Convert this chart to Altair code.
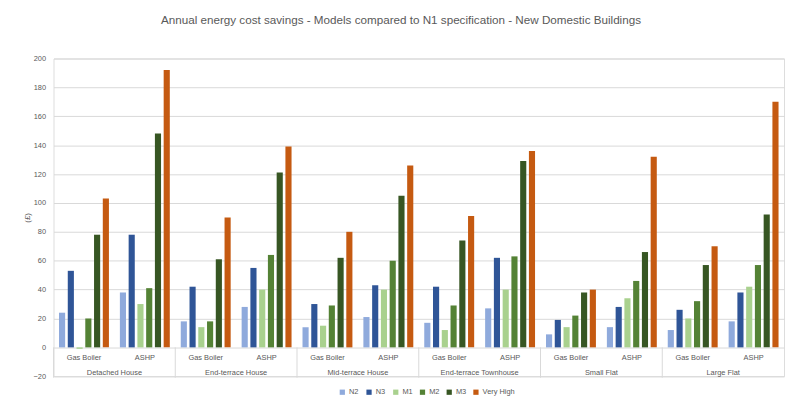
import altair as alt
import pandas as pd

groups = ["Detached House", "End-terrace House", "Mid-terrace House",
          "End-terrace Townhouse", "Small Flat", "Large Flat"]
subs = ["Gas Boiler", "ASHP"]
series = ["N2", "N3", "M1", "M2", "M3", "Very High"]
colors = ["#8FAADC", "#2F5597", "#A9D18E", "#548235", "#375623", "#C55A11"]

# values per series, ordered group by group: (Gas Boiler, ASHP)
N2 = [24, 38, 18, 28, 14, 21, 17, 27, 9, 14, 12, 18]
N3 = [53, 78, 42, 55, 30, 43, 42, 62, 19, 28, 26, 38]
M1 = [-1, 30, 14, 40, 15, 40, 12, 40, 14, 34, 20, 42]
M2 = [20, 41, 18, 64, 29, 60, 29, 63, 22, 46, 32, 57]
M3 = [78, 148, 61, 121, 62, 105, 74, 129, 38, 66, 57, 92]
VH = [103, 192, 90, 139, 80, 126, 91, 136, 40, 132, 70, 170]

y_ticks = list(range(-20, 201, 20))

cats = [f"{g}|{s}" for g in groups for s in subs]
vals = dict(zip(series, [N2, N3, M1, M2, M3, VH]))

rows = []
for s in series:
    for i, c in enumerate(cats):
        rows.append({"cat": c, "series": s, "value": vals[s][i]})
df = pd.DataFrame(rows)

sub_df = pd.DataFrame({"cat": cats, "label": [c.split("|")[1] for c in cats], "value": -7.5})
grp_df = pd.DataFrame({"cat": [f"{g}|{subs[0]}" for g in groups], "label": groups, "value": -18.0})
sep_df = pd.DataFrame({"cat": [f"{g}|{subs[0]}" for g in groups], "value": 0, "value2": -21})

W = 738
H = 321
step = W / len(cats)
grey = "#595959"
FONT = "Liberation Sans"

xs = alt.X("cat:N", sort=cats,
           scale=alt.Scale(domain=cats, paddingInner=0.18, paddingOuter=0.09),
           axis=None)
yscale = alt.Scale(domain=[-20, 200], nice=False, zero=False)
yaxis = alt.Axis(values=y_ticks, tickCount=12, title="(£)", grid=True,
                 gridColor="#D9D9D9", domain=False, ticks=False,
                 labelColor=grey, labelFontSize=7.5, labelFont=FONT,
                 labelPadding=8, labelOverlap=False, labelFlush=False,
                 titleColor=grey, titleFontSize=8,
                 titleFont=FONT, titleFontWeight="normal",
                 titlePadding=2)
ys = alt.Y("value:Q", scale=yscale, axis=yaxis)

bars = alt.Chart(df).mark_bar().encode(
    x=xs,
    xOffset=alt.XOffset("series:N", sort=series,
                        scale=alt.Scale(domain=series, paddingInner=0.3)),
    y=ys,
    y2=alt.datum(0),
    color=alt.Color("series:N", sort=series,
                    scale=alt.Scale(domain=series, range=colors),
                    legend=alt.Legend(title=None, orient="none", direction="horizontal",
                                      legendX=288, legendY=333, symbolType="square",
                                      symbolSize=28, labelFontSize=7.5, labelColor=grey,
                                      labelFont=FONT, columnPadding=6, labelOffset=3,
                                      symbolStrokeWidth=0)),
)

sub_txt = alt.Chart(sub_df).mark_text(fontSize=7.5, color=grey, font=FONT,
                                       baseline="middle").encode(
    x=xs, y=ys, text="label:N")

grp_txt = alt.Chart(grp_df).mark_text(fontSize=7.5, color=grey, font=FONT,
                                       baseline="middle", dx=step / 2).encode(
    x=xs, y=ys, text="label:N")

seps = alt.Chart(sep_df).mark_rule(color="#D9D9D9", strokeWidth=1,
                                   xOffset=-step / 2).encode(
    x=xs, y=ys, y2="value2:Q")

chart = alt.layer(bars, seps, sub_txt, grp_txt).properties(
    width=W, height=H,
    autosize=alt.AutoSizeParams(type="none"),
    padding={"left": 46, "top": 49, "right": 2, "bottom": 26},
    title=alt.TitleParams(
        "Annual energy cost savings - Models compared to N1 specification - New Domestic Buildings",
        fontSize=11.8, font=FONT, color=grey, fontWeight="normal",
        anchor="middle", dx=-18, offset=28),
).configure_view(stroke="transparent", strokeWidth=0, strokeOpacity=0).configure(background="white")

chart.save("out.html", embed_options={"renderer": "svg", "actions": False})
